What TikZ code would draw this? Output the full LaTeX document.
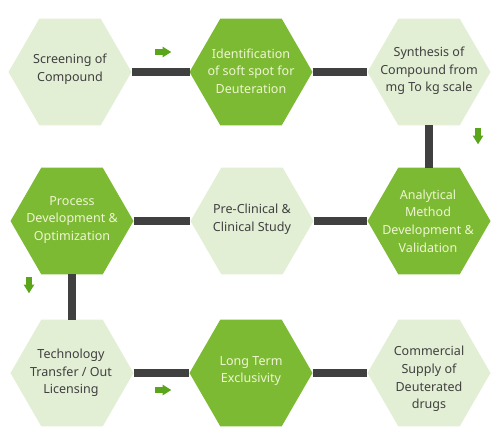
\documentclass[tikz,border=0pt]{standalone}
\usepackage{fontspec}
\setmainfont{Noto Sans}
\usetikzlibrary{shapes.geometric,shapes.arrows}

\definecolor{hexpale}{HTML}{E2EFD5}
\definecolor{hexdark}{HTML}{7DBA33}
\definecolor{txtdark}{HTML}{404040}
\definecolor{txtpale}{HTML}{EEF5D2}
\definecolor{barcol}{HTML}{404040}
\definecolor{arrcol}{HTML}{5BA51B}

\tikzset{
  hexa/.style={regular polygon, regular polygon sides=6, minimum size=92.25pt,
    inner sep=0pt, outer sep=0pt, draw=none},
  hexlight/.style={hexa, fill=hexpale},
  hexgreen/.style={hexa, fill=hexdark},
  lbl/.style={align=center, inner sep=0pt, font=\fontsize{9.4}{13.2}\selectfont},
  lbldark/.style={lbl, text=txtdark},
  lblpale/.style={lbl, text=txtpale},
  bar/.style={draw=barcol, line width=5.5pt},
  hint/.style={single arrow, fill=arrcol, draw=none, inner sep=1.9pt,
    minimum height=12pt, single arrow head extend=1.9pt,
    single arrow tip angle=64, single arrow head indent=0pt}
}

\begin{document}
\begin{tikzpicture}[x=0.75pt,y=-0.75pt]
    \useasboundingbox (0,0) rectangle (503,436);

    % hexagons
    \node[hexlight] (screen) at (70,72){};
    \node[hexgreen] (ident) at (251,72){};
    \node[hexlight] (synth) at (429,72){};
    \node[hexgreen] (proc) at (72,221){};
    \node[hexlight] (clin) at (252,221){};
    \node[hexgreen] (anal) at (429,221){};
    \node[hexlight] (tech) at (72,373){};
    \node[hexgreen] (excl) at (251,373){};
    \node[hexlight] (comm) at (429,373){};

    % connectors
    \draw (screen) edge[bar] (ident);
    \draw (ident) edge[bar] (synth);
    \draw (synth) edge[bar] (anal);
    \draw (proc) edge[bar] (clin);
    \draw (clin) edge[bar] (anal);
    \draw (proc) edge[bar] (tech);
    \draw (tech) edge[bar] (excl);
    \draw (excl) edge[bar] (comm);

    % labels
    \node[lbldark] (screenT) at (70,69){Screening of\\Compound};
    \node[lblpale] (identT) at (251,71){Identification\\of soft spot for\\Deuteration};
    \node[lbldark] (synthT) at (429,71){Synthesis of\\Compound from\\mg To kg scale};
    \node[lblpale] (procT) at (72,220){Process\\Development \&\\Optimization};
    \node[lbldark] (clinT) at (252,219){Pre-Clinical \&\\Clinical Study};
    \node[lblpale] (analT) at (428,221){Analytical\\Method\\Development \&\\Validation};
    \node[lbldark] (techT) at (71,373){Technology\\Transfer / Out\\Licensing};
    \node[lblpale] (exclT) at (251,371){Long Term\\Exclusivity};
    \node[lbldark] (commT) at (429,379){Commercial\\Supply of\\Deuterated\\drugs};

    % direction hints
    \node[hint] (h1) at (161,52){};
    \node[hint, rotate=-90] (h2) at (478,134){};
    \node[hint, rotate=-90] (h3) at (29,283){};
    \node[hint] (h4) at (161,390){};
\end{tikzpicture}
\end{document}
